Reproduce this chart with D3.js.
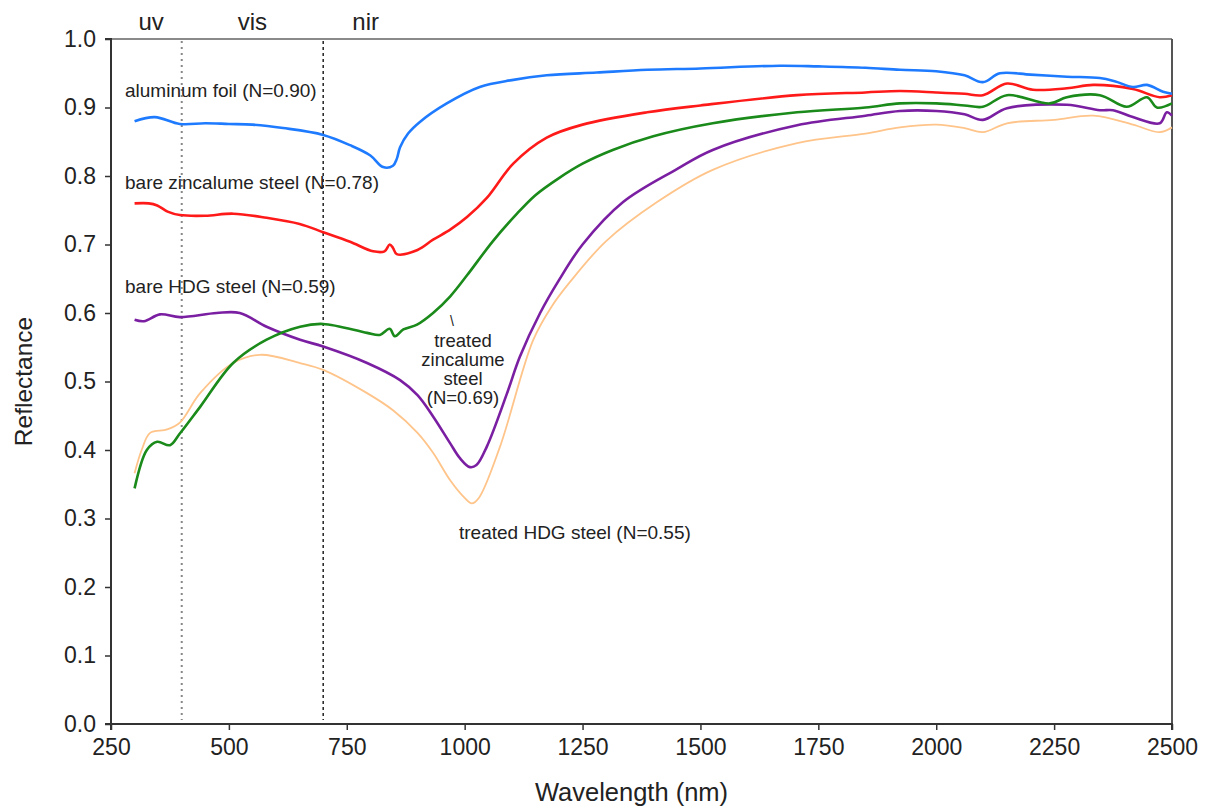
<!DOCTYPE html>
<html>
<head>
<meta charset="utf-8">
<script src="https://cdn.jsdelivr.net/npm/d3@7"></script>
<style>
  body { margin: 0; background: #fff; }
  svg { font-family: "Liberation Sans", Arial, sans-serif; }
</style>
</head>
<body>
<svg width="1216" height="809"></svg>
<script>
// Reflectance spectra
var blueWl = [300,343,396,450,500,550,615,700,757,800,827,848,856,863,880,905,962,1032,1100,1174,1280,1387,1500,1668,1750,1850,1923,2000,2060,2099,2135,2200,2277,2347,2380,2417,2447,2481,2500];
var blueR = [0.880,0.886,0.876,0.877,0.876,0.875,0.870,0.860,0.845,0.830,0.813,0.815,0.825,0.842,0.862,0.879,0.906,0.930,0.940,0.947,0.951,0.955,0.957,0.961,0.960,0.958,0.955,0.953,0.947,0.937,0.950,0.948,0.945,0.943,0.938,0.930,0.933,0.923,0.920];

var redWl = [300,330,348,370,396,450,509,580,650,700,757,806,830,841,848,856,900,933,970,1005,1047,1103,1174,1250,1387,1500,1705,1850,1923,2000,2060,2099,2150,2205,2277,2333,2417,2474,2500];
var redR = [0.760,0.760,0.757,0.748,0.743,0.742,0.745,0.739,0.730,0.718,0.704,0.690,0.690,0.700,0.695,0.686,0.692,0.707,0.722,0.740,0.768,0.818,0.856,0.875,0.893,0.903,0.918,0.922,0.924,0.922,0.920,0.918,0.935,0.926,0.928,0.933,0.927,0.915,0.918];

var greenWl = [300,326,348,375,396,439,509,580,651,700,793,820,841,852,870,899,933,969,1005,1060,1111,1150,1200,1250,1314,1400,1526,1705,1850,1923,2000,2060,2099,2150,2241,2277,2347,2404,2447,2468,2500];
var greenR = [0.344,0.400,0.412,0.407,0.424,0.463,0.527,0.561,0.580,0.584,0.571,0.568,0.577,0.566,0.576,0.583,0.600,0.624,0.655,0.705,0.745,0.772,0.797,0.818,0.838,0.858,0.877,0.893,0.900,0.906,0.906,0.903,0.901,0.918,0.906,0.915,0.918,0.901,0.915,0.900,0.906];

var purpleWl = [300,320,354,396,474,523,580,651,700,793,863,900,933,969,990,1011,1025,1047,1090,1117,1160,1200,1250,1336,1450,1526,1705,1850,1923,2000,2060,2099,2150,2277,2347,2375,2417,2474,2489,2500];
var purpleR = [0.590,0.588,0.598,0.594,0.600,0.600,0.580,0.561,0.551,0.527,0.502,0.480,0.449,0.410,0.388,0.375,0.378,0.405,0.483,0.536,0.600,0.648,0.700,0.762,0.810,0.838,0.874,0.888,0.895,0.895,0.890,0.882,0.899,0.904,0.896,0.896,0.886,0.877,0.893,0.888];

var orangeWl = [300,315,333,369,396,439,509,566,651,700,793,848,900,933,970,1000,1015,1030,1075,1145,1185,1223,1300,1408,1526,1705,1850,1923,2000,2060,2099,2150,2250,2333,2417,2474,2500];
var orangeR = [0.366,0.400,0.425,0.430,0.440,0.483,0.527,0.539,0.527,0.517,0.483,0.458,0.425,0.396,0.355,0.330,0.322,0.330,0.405,0.560,0.610,0.645,0.705,0.762,0.809,0.848,0.862,0.871,0.875,0.870,0.864,0.877,0.882,0.888,0.875,0.864,0.871];

var xTicks = [250,500,750,1000,1250,1500,1750,2000,2250,2500];
var yTicks = [0,0.1,0.2,0.3,0.4,0.5,0.6,0.7,0.8,0.9,1.0];
var regionLines = [400, 700];
var regionNames = ['uv', 'vis', 'nir'];
var regionCenters = [335, 550, 790];

var svg = d3.select('svg');
var padding = {t: 39, r: 44, b: 85, l: 111};
var chartWidth = 1216 - padding.l - padding.r;
var chartHeight = 809 - padding.t - padding.b;

var chartG = svg.append('g')
    .attr('transform', 'translate(' + [padding.l, padding.t] + ')');

var x = d3.scaleLinear().domain([250, 2500]).range([0, chartWidth]);
var y = d3.scaleLinear().domain([0, 1]).range([chartHeight, 0]);

// frame: gray top, dark right
chartG.append('line').attr('x1', 0).attr('x2', chartWidth).attr('y1', 0).attr('y2', 0)
    .attr('stroke', '#8a8a8a').attr('stroke-width', 2);
chartG.append('line').attr('x1', chartWidth).attr('x2', chartWidth).attr('y1', 0).attr('y2', chartHeight)
    .attr('stroke', '#555').attr('stroke-width', 2);

// dotted region boundaries
chartG.selectAll('.region')
    .data(regionLines)
    .enter().append('line')
    .attr('x1', d => x(d)).attr('x2', d => x(d))
    .attr('y1', 2).attr('y2', chartHeight - 4)
    .attr('stroke', (d, i) => i === 0 ? '#888' : '#222')
    .attr('stroke-width', (d, i) => i === 0 ? 2 : 1.5)
    .attr('stroke-dasharray', (d, i) => i === 0 ? '2,4' : '3,3');

svg.selectAll('.regionName')
    .data(regionNames)
    .enter().append('text')
    .attr('x', (d, i) => padding.l + x(regionCenters[i]))
    .attr('y', 30)
    .attr('text-anchor', 'middle')
    .attr('font-size', 24)
    .attr('fill', '#222')
    .text(d => d);

// axes
var xAxis = d3.axisBottom(x).tickValues(xTicks).tickSize(6).tickPadding(9).tickFormat(d3.format('d'));
var yAxis = d3.axisLeft(y).tickValues(yTicks).tickSize(6).tickPadding(9).tickFormat(d3.format('.1f'));

var gx = chartG.append('g')
    .attr('transform', 'translate(0,' + chartHeight + ')')
    .call(xAxis);
var gy = chartG.append('g').call(yAxis);

[gx, gy].forEach(function(g) {
    g.select('.domain').attr('stroke', '#333').attr('stroke-width', 2);
    g.selectAll('.tick line').attr('stroke', '#333').attr('stroke-width', 1.5);
    g.selectAll('.tick text').attr('font-size', 23).attr('fill', '#222')
        .attr('font-family', '"Liberation Sans", Arial, sans-serif');
});
gx.select('.domain').attr('d', 'M0,6V0H' + chartWidth + 'V6');
gy.select('.domain').attr('d', 'M-6,0H0V' + chartHeight + 'H-6');

svg.append('text')
    .attr('transform', 'translate(32,' + (padding.t + chartHeight / 2) + ') rotate(-90)')
    .attr('text-anchor', 'middle')
    .attr('font-size', 24.5)
    .attr('fill', '#222')
    .text('Reflectance');

svg.append('text')
    .attr('x', padding.l + chartWidth / 2 - 10)
    .attr('y', 801)
    .attr('text-anchor', 'middle')
    .attr('font-size', 25.5)
    .attr('fill', '#222')
    .text('Wavelength (nm)');

// spectra
var series = [
    {wl: orangeWl, r: orangeR, color: '#ffc48a', width: 1.8},
    {wl: purpleWl, r: purpleR, color: '#7b1fa2', width: 2.6},
    {wl: greenWl, r: greenR, color: '#1a8a1a', width: 2.6},
    {wl: redWl, r: redR, color: '#ff1a1a', width: 2.6},
    {wl: blueWl, r: blueR, color: '#1e7bff', width: 2.6}
];

var line = d3.line()
    .x(d => x(d[0]))
    .y(d => y(d[1]))
    .curve(d3.curveCatmullRom.alpha(0.5));

chartG.selectAll('.spectrum')
    .data(series)
    .enter().append('path')
    .attr('class', 'spectrum')
    .attr('fill', 'none')
    .attr('stroke', d => d.color)
    .attr('stroke-width', d => d.width)
    .attr('stroke-linejoin', 'round')
    .attr('d', d => line(d3.zip(d.wl, d.r)));

// annotations
var notes = [
    {text: 'aluminum foil (N=0.90)', x: 125, y: 97, size: 19},
    {text: 'bare zincalume steel (N=0.78)', x: 125, y: 189, size: 19},
    {text: 'bare HDG steel (N=0.59)', x: 125, y: 293, size: 19},
    {text: '\\', x: 452, y: 326, size: 14, anchor: 'middle'},
    {text: 'treated', x: 463, y: 347, size: 18.5, anchor: 'middle'},
    {text: 'zincalume', x: 463, y: 366, size: 18.5, anchor: 'middle'},
    {text: 'steel', x: 463, y: 385, size: 18.5, anchor: 'middle'},
    {text: '(N=0.69)', x: 463, y: 404, size: 18.5, anchor: 'middle'},
    {text: 'treated HDG steel (N=0.55)', x: 459, y: 539, size: 19}
];

svg.selectAll('.note')
    .data(notes)
    .enter().append('text')
    .attr('x', d => d.x)
    .attr('y', d => d.y)
    .attr('text-anchor', d => d.anchor || 'start')
    .attr('font-size', d => d.size)
    .attr('fill', '#222')
    .text(d => d.text);
</script>
</body>
</html>
